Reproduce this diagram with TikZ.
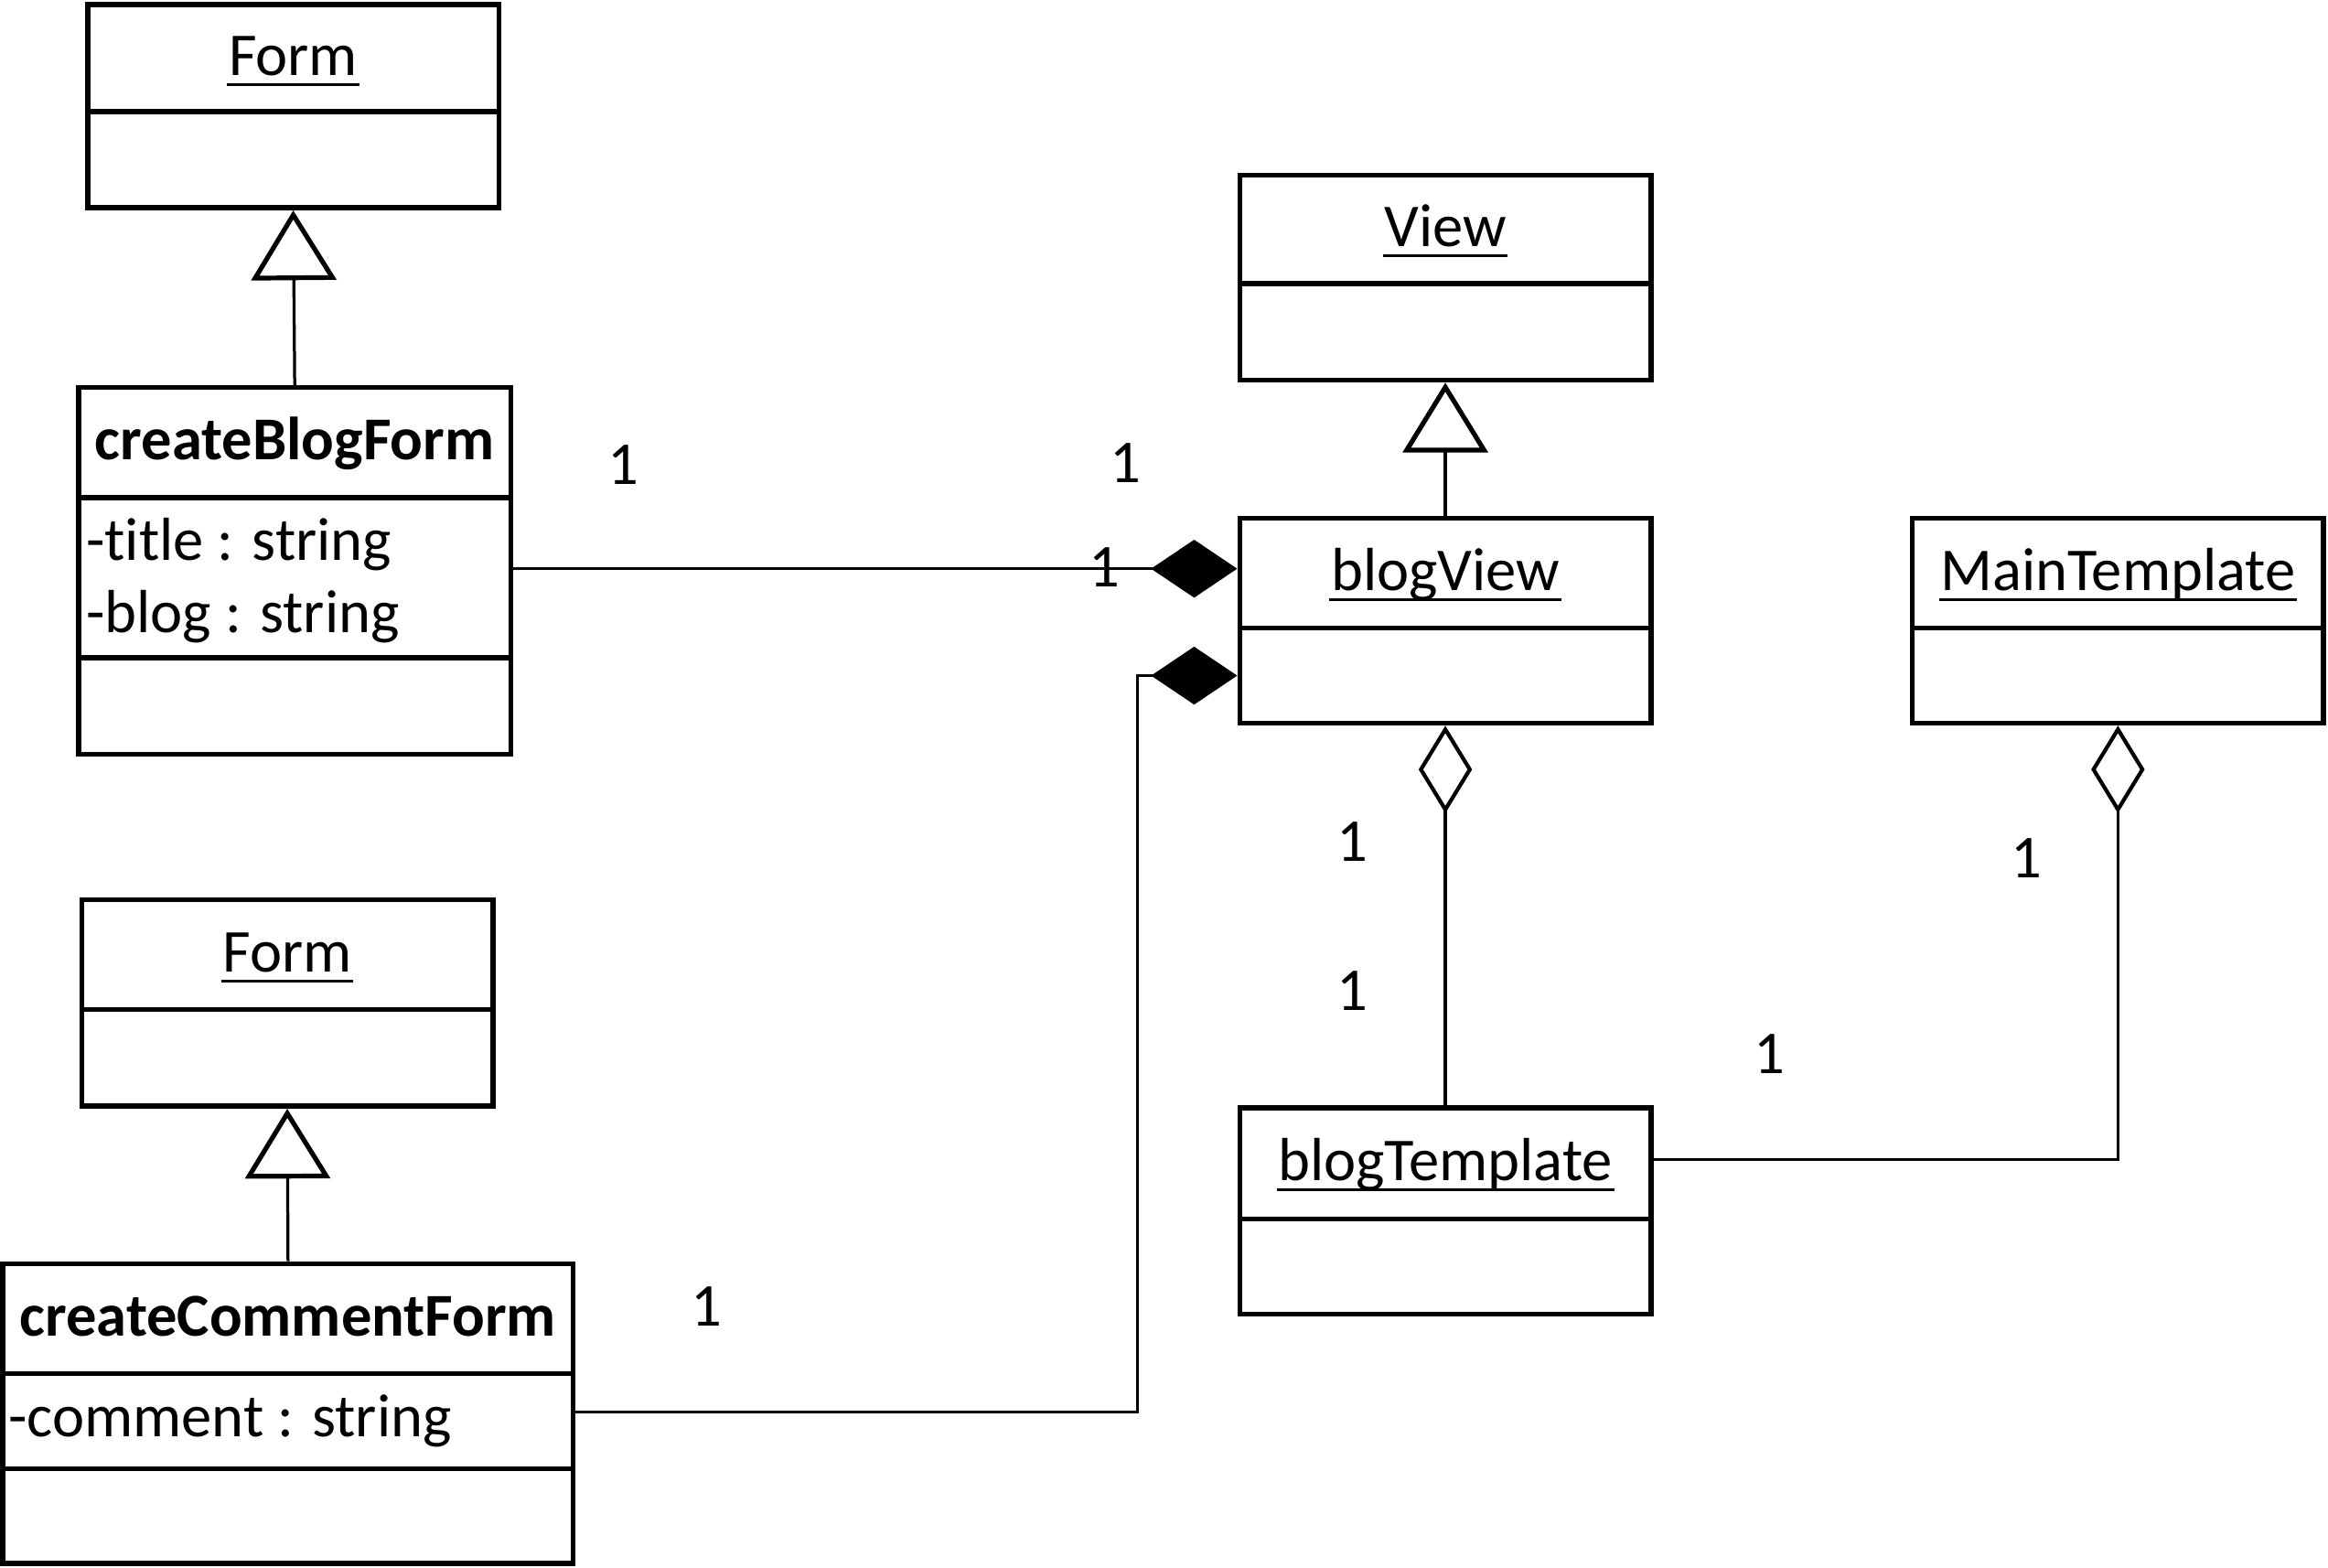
\documentclass[tikz,border=0pt]{standalone}
\usepackage{fontspec}
\setmainfont{Carlito}[Ligatures={NoCommon}]
\usetikzlibrary{fit,arrows.meta}
\newcommand{\fsz}{\fontsize{20.5}{24.5}\selectfont}
\newcommand{\umlul}[1]{\setbox0\hbox{#1}\rlap{\kern-0.5pt\raisebox{-3.6pt}{\rule{\dimexpr\wd0+1pt\relax}{0.9pt}}}\box0}
\tikzset{
  compart/.style={draw, line width=1.7pt, inner sep=0pt},
  title/.style={anchor=base, inner sep=0pt, font=\fsz, yshift=-5.8pt},
  attrtext/.style={anchor=west, align=left, inner sep=0pt, font=\fsz},
  conn/.style={line width=1pt},
  gen/.style={conn, -{Triangle[open, length=23.5pt, width=28.5pt, line width=1.6pt]}},
  comp/.style={conn, -{Diamond[length=29pt, width=19.5pt]}},
  aggr/.style={conn, -{Diamond[open, length=29.5pt, width=18pt, line width=1.3pt]}},
  mult/.style={font=\fsz, inner sep=0pt}
}
\begin{document}
\begin{tikzpicture}[x=0.5pt, y=-0.5pt]
\useasboundingbox (0,0) rectangle (1568,1056);
% Form (top)
\node[compart, fit={(59,3)(336,75)}] (f1h) {};
\node[compart, fit={(59,75)(336,140)}] (f1b) {};
\node[title] (f1t) at (f1h.center) {\umlul{Form}};
% createBlogForm
\node[compart, fit={(53,261)(344,335)}] (cbfh) {};
\node[compart, fit={(53,335)(344,443)}] (cbfa) {};
\node[compart, fit={(53,443)(344,508)}] (cbfo) {};
\node[title] (cbfn) at (cbfh.center) {\textbf{createBlogForm}};
\node[attrtext, xshift=3.2pt, yshift=-1pt] (cbft) at (cbfa.west) {-title : string\\-blog : string};
% View
\node[compart, fit={(835,118)(1112,191)}] (vh) {};
\node[compart, fit={(835,191)(1112,256)}] (vb) {};
\node[title] (vt) at (vh.center) {\umlul{View}};
% blogView
\node[compart, fit={(835,349)(1112,423)}] (bvh) {};
\node[compart, fit={(835,423)(1112,487)}] (bvb) {};
\node[title] (bvt) at (bvh.center) {\umlul{blogView}};
% MainTemplate
\node[compart, fit={(1288,349)(1565,423)}] (mth) {};
\node[compart, fit={(1288,423)(1565,487)}] (mtb) {};
\node[title] (mtt) at (mth.center) {\umlul{MainTemplate}};
% blogTemplate
\node[compart, fit={(835,746)(1112,821)}] (bth) {};
\node[compart, fit={(835,821)(1112,885)}] (btb) {};
\node[title] (btt) at (bth.center) {\umlul{blogTemplate}};
% Form (bottom)
\node[compart, fit={(55,606)(332,680)}] (f2h) {};
\node[compart, fit={(55,680)(332,745)}] (f2b) {};
\node[title] (f2t) at (f2h.center) {\umlul{Form}};
% createCommentForm
\node[compart, fit={(2,851)(386,925)}] (ccfh) {};
\node[compart, fit={(2,925)(386,989)}] (ccfa) {};
\node[compart, fit={(2,989)(386,1053)}] (ccfo) {};
\node[title] (ccfn) at (ccfh.center) {\textbf{createCommentForm}};
\node[attrtext, xshift=2.5pt] (ccft) at (ccfa.west) {-comment : string};
% connectors
\coordinate (bend) at (766,700);
\draw[gen] (cbfh.north) -- (f1b.south);
\draw[gen] (ccfh.north) -- (f2b.south);
\draw[gen] (bvh.north) -- (vb.south);
\draw[comp] ([yshift=1.5pt]cbfa.east |- bvh.west) -- ([yshift=1.5pt]bvh.west);
\draw[comp] ([yshift=3pt]ccfa.east) -| (bend) |- (bvb.west);
\draw[aggr] (bth.north) -- (bvb.south);
\draw[aggr] ([yshift=1.2pt]bth.east) -| (mtb.south);
% multiplicities
\node[mult] (m1) at (420,313) {1};
\node[mult] (m2) at (758,312) {1};
\node[mult] (m3) at (744,382) {1};
\node[mult] (m4) at (911,567) {1};
\node[mult] (m5) at (911,667) {1};
\node[mult] (m6) at (1365,578) {1};
\node[mult] (m7) at (1192,710) {1};
\node[mult] (m8) at (476,880) {1};
\end{tikzpicture}
\end{document}
